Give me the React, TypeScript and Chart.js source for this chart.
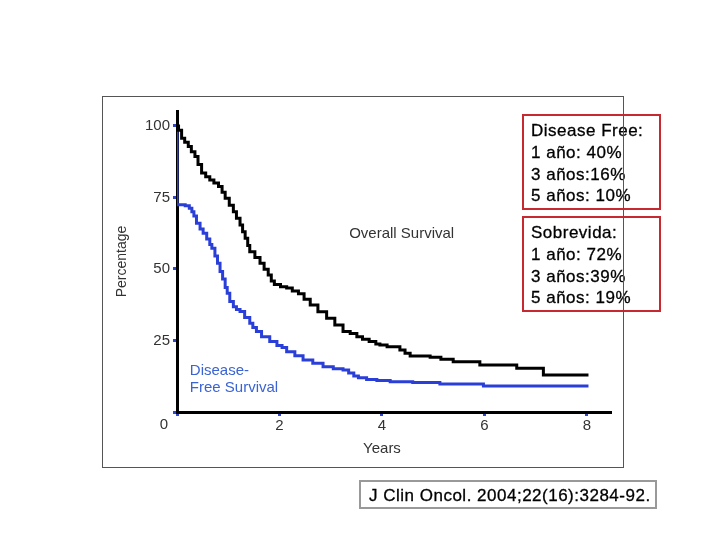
import React, { useEffect, useRef } from "react";
import { Chart, registerables } from "chart.js";

Chart.register(...registerables);

// Overall survival (Kaplan-Meier, black)
const overallYears = [0, 0.03, 0.09, 0.15, 0.22, 0.28, 0.35, 0.41, 0.48, 0.56, 0.64, 0.72, 0.81, 0.88, 0.94, 1.02, 1.1, 1.16, 1.23, 1.28, 1.33, 1.38, 1.42, 1.52, 1.62, 1.7, 1.78, 1.84, 1.9, 2.02, 2.14, 2.25, 2.37, 2.48, 2.6, 2.75, 2.92, 3.08, 3.24, 3.38, 3.51, 3.62, 3.75, 3.88, 3.96, 4.1, 4.35, 4.45, 4.55, 4.94, 5.15, 5.39, 5.91, 6.63, 7.15, 8.03];
const overallPct = [100, 98.5, 95.7, 94.3, 92.8, 91, 89.3, 86.5, 83.5, 82.2, 81.1, 80, 78.8, 76.8, 74.7, 72.3, 70, 67.7, 65.4, 63, 60.7, 58.2, 56, 54, 52, 49.9, 47.9, 45.8, 44.6, 43.8, 43.3, 42.3, 41.3, 39.4, 37.4, 35, 32.8, 30.4, 28.1, 27.4, 26.3, 25.4, 24.6, 23.8, 23.4, 22.8, 21.7, 20.5, 19.6, 19.1, 18.4, 17.6, 16.4, 15.3, 12.9, 12.9];

// Disease-free survival (Kaplan-Meier, blue)
const dfsYears = [0, 0, 0.16, 0.24, 0.29, 0.33, 0.38, 0.45, 0.51, 0.58, 0.64, 0.68, 0.74, 0.79, 0.84, 0.89, 0.94, 0.98, 1.03, 1.1, 1.16, 1.23, 1.32, 1.42, 1.48, 1.55, 1.65, 1.81, 1.95, 2.05, 2.14, 2.3, 2.46, 2.65, 2.85, 3.05, 3.24, 3.35, 3.45, 3.54, 3.7, 3.9, 4.16, 4.6, 5.13, 5.98, 8.03];
const dfsPct = [100, 72.4, 72.1, 71.2, 70, 68.5, 66, 64, 62.5, 60.5, 58.5, 57.2, 54.5, 52, 49.1, 46.5, 43.5, 41.5, 38.6, 36.8, 35.8, 35.1, 33, 31, 29.5, 28.1, 26.3, 24.6, 23.2, 22.5, 21.1, 19.7, 18.2, 17, 15.8, 15.1, 14.7, 13.6, 12.6, 12, 11.4, 11, 10.6, 10.3, 9.8, 9.1, 9.1];

const xTickValues = [0, 2, 4, 6, 8];
const yTickValues = [0, 25, 50, 75, 100];

const diseaseFreeLines = ["Disease Free:", "1 año: 40%", "3 años:16%", "5 años: 10%"];
const overallLines = ["Sobrevida:", "1 año: 72%", "3 años:39%", "5 años: 19%"];
const citation = "J Clin Oncol. 2004;22(16):3284-92.";

const FONT = '"Liberation Sans", Arial, Helvetica, sans-serif';
const BLUE = "#2a3fd8";
const TICK_BLUE = "#2f45d0";

const labelPlugin = {
  id: "curveLabels",
  afterDraw(chart: any) {
    const { ctx, chartArea } = chart;
    const x = chart.scales.x;
    const y = chart.scales.y;
    ctx.save();
    ctx.font = `15px ${FONT}`;
    ctx.textBaseline = "middle";
    ctx.textAlign = "left";
    ctx.fillStyle = "#333";
    ctx.fillText("Overall Survival", x.getPixelForValue(3.36), y.getPixelForValue(62.3));
    ctx.fillStyle = "#3a63d4";
    ctx.fillText("Disease-", x.getPixelForValue(0.25), y.getPixelForValue(14.3));
    ctx.fillText("Free Survival", x.getPixelForValue(0.25), y.getPixelForValue(8.6));
    ctx.fillStyle = "#333";
    ctx.textAlign = "center";
    ctx.fillText("Years", x.getPixelForValue(4), chartArea.bottom + 37);
    ctx.fillText("0", chartArea.left - 13, chartArea.bottom + 13);
    ctx.restore();
  },
};

export default function App() {
  const canvasRef = useRef<HTMLCanvasElement | null>(null);

  useEffect(() => {
    if (!canvasRef.current) return;
    const tickFont = { family: FONT, size: 15 };
    const chart = new Chart(canvasRef.current, {
      type: "line",
      data: {
        datasets: [
          {
            label: "Overall Survival",
            data: overallYears.map((v, i) => ({ x: v, y: overallPct[i] })),
            borderColor: "#000",
            borderWidth: 3,
            stepped: true,
            pointRadius: 0,
            fill: false,
          },
          {
            label: "Disease-Free Survival",
            data: dfsYears.map((v, i) => ({ x: v, y: dfsPct[i] })),
            borderColor: BLUE,
            borderWidth: 3,
            stepped: true,
            pointRadius: 0,
            fill: false,
          },
        ],
      },
      options: {
        animation: false,
        responsive: false,
        layout: { padding: { left: 110, top: 111, right: 110, bottom: 88 } },
        plugins: { legend: { display: false }, tooltip: { enabled: false } },
        scales: {
          x: {
            type: "linear",
            min: 0,
            max: 8.45,
            afterBuildTicks: (s: any) => {
              s.ticks = xTickValues.map((v) => ({ value: v }));
            },
            afterFit: (s: any) => {
              s.height = 40;
            },
            grid: { display: true, drawOnChartArea: false, drawTicks: true, tickLength: 4, color: TICK_BLUE, lineWidth: 3 },
            border: { display: true, color: "#000", width: 3 },
            ticks: {
              color: "#333",
              font: tickFont,
              padding: 1,
              maxRotation: 0,
              autoSkip: false,
              callback: (v: any) => (v === 0 ? "" : String(v)),
            },
          },
          y: {
            type: "linear",
            min: 0,
            max: 105.2,
            afterBuildTicks: (s: any) => {
              s.ticks = yTickValues.map((v) => ({ value: v }));
            },
            afterFit: (s: any) => {
              s.width = 67;
            },
            title: {
              display: true,
              text: "Percentage",
              color: "#333",
              font: { family: FONT, size: 14 },
              padding: { top: 4, bottom: 4 },
            },
            grid: { display: true, drawOnChartArea: false, drawTicks: true, tickLength: 4, color: TICK_BLUE, lineWidth: 3 },
            border: { display: true, color: "#000", width: 3 },
            ticks: {
              color: "#333",
              font: tickFont,
              padding: 3,
              autoSkip: false,
              callback: (v: any) => (v === 0 ? "" : String(v)),
            },
          },
        },
      },
      plugins: [labelPlugin],
    } as any);
    return () => chart.destroy();
  }, []);

  const boxText: React.CSSProperties = {
    position: "absolute",
    left: 522,
    width: 139,
    height: 96,
    boxSizing: "border-box",
    border: "2px solid #c62a30",
    padding: "4px 0 0 7px",
    fontFamily: FONT,
    fontSize: 17,
    letterSpacing: "0.5px",
    lineHeight: "21.8px",
    color: "#000",
    whiteSpace: "nowrap",
    WebkitTextStroke: "0.3px #000",
  } as React.CSSProperties;

  return (
    <div style={{ position: "absolute", left: 0, top: 0, width: 720, height: 540, background: "#fff", overflow: "hidden" }}>
      <canvas ref={canvasRef} width={720} height={540} style={{ position: "absolute", left: 0, top: 0, width: 720, height: 540 }} />
      <div style={{ ...boxText, top: 114 }}>
        {diseaseFreeLines.map((l) => (
          <div key={l}>{l}</div>
        ))}
      </div>
      <div style={{ ...boxText, top: 216 }}>
        {overallLines.map((l) => (
          <div key={l}>{l}</div>
        ))}
      </div>
      <div
        style={{
          position: "absolute",
          left: 102,
          top: 96,
          width: 522,
          height: 372,
          boxSizing: "border-box",
          border: "1px solid #555",
          pointerEvents: "none",
        }}
      />
      <div
        style={
          {
            position: "absolute",
            left: 359,
            top: 480,
            width: 298,
            height: 29,
            boxSizing: "border-box",
            border: "2px solid #999",
            padding: "2px 0 0 8px",
            fontFamily: FONT,
            fontSize: 17,
            letterSpacing: "0.5px",
            lineHeight: "24px",
            color: "#000",
            whiteSpace: "nowrap",
            WebkitTextStroke: "0.3px #000",
          } as React.CSSProperties
        }
      >
        {citation}
      </div>
    </div>
  );
}
